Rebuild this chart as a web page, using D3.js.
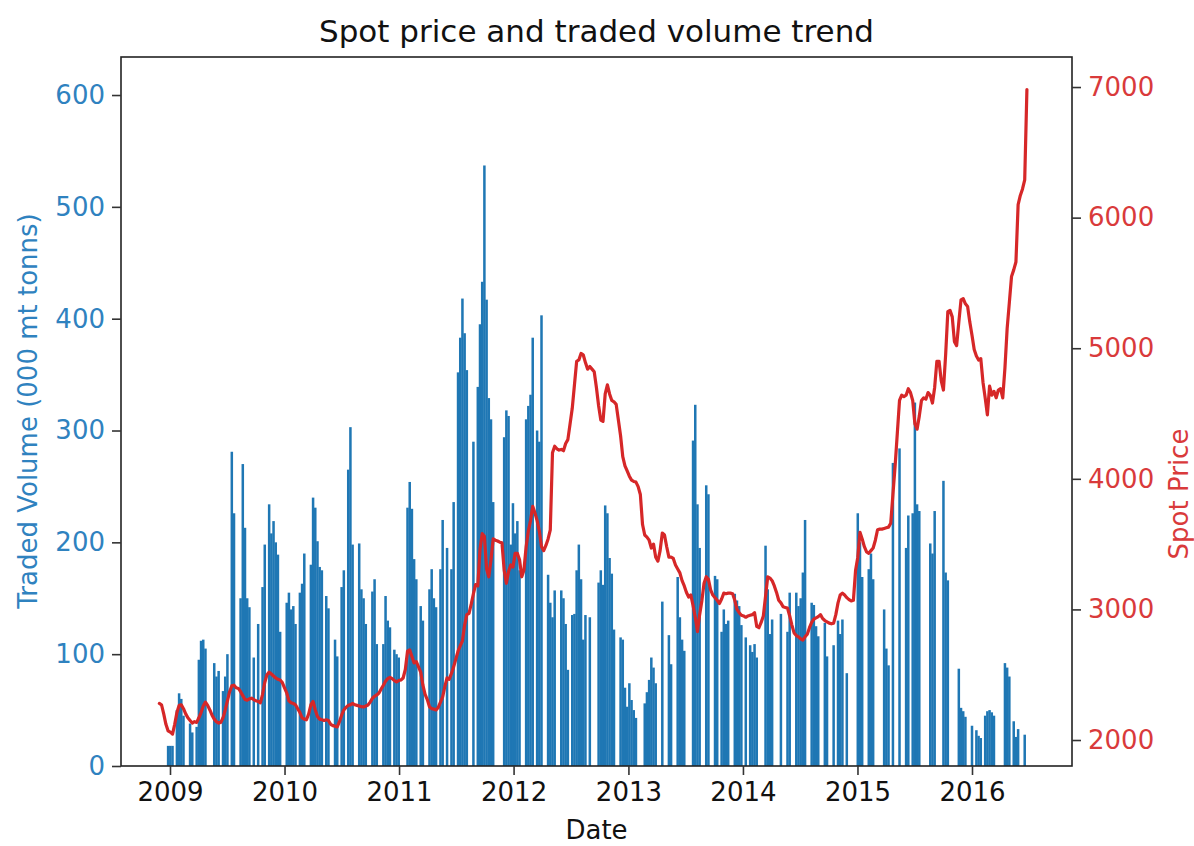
<!DOCTYPE html>
<html><head><meta charset="utf-8">
<script src="https://cdn.jsdelivr.net/npm/d3@7"></script>
<style>body{margin:0;background:#fff}svg{display:block}text{font-family:"DejaVu Sans",sans-serif}</style>
</head><body>
<svg id="chart" width="1194" height="846"></svg>
<script>
// Weekly (Friday) series, one array per calendar year
const volume2008 = [0,0,0,0,18];
const volume2009 = [18,18,0,50,65,60,45,0,0,38, 30,0,35,95,112,113,105,0,0,0, 92,80,85,0,67,80,100,0,281,226, 0,0,150,270,213,150,142,0,97,0, 127,0,160,198,0,234,208,219,200,189, 120,0];
const volume2010 = [0,146,155,140,143,127,0,155,163,190, 0,0,180,240,231,201,178,175,0,152, 141,0,0,113,98,0,160,175,0,265, 303,198,0,0,199,158,150,127,0,0, 156,167,109,0,0,109,152,130,124,0, 104,100,97];
const volume2011 = [0,0,0,231,254,230,185,167,0,143, 130,0,0,158,176,150,142,0,176,220, 0,195,0,176,236,0,352,383,418,387, 354,0,0,290,0,339,395,433,537,417, 329,310,236,0,0,0,0,294,318,313, 198,235];
const volume2012 = [208,219,175,0,0,310,322,332,383,0, 300,290,403,0,0,171,146,133,157,0, 0,157,150,127,86,0,135,136,175,198, 167,113,135,0,133,0,0,0,164,175, 162,233,226,186,172,122,0,0,115,113, 70,53];
const volume2013 = [74,59,50,43,0,0,0,56,66,77, 97,88,74,0,0,147,0,0,117,91, 0,0,169,133,113,103,0,0,0,291, 323,234,195,0,0,251,243,0,0,170, 167,0,120,140,127,130,0,0,154,148, 143,126];
const volume2014 = [0,115,0,108,102,109,97,0,0,0, 197,158,118,131,0,0,0,136,0,0, 120,155,0,0,155,143,150,173,220,0, 0,146,144,125,116,0,0,128,98,0, 0,108,0,130,118,131,0,83,0,0, 0,0];
const volume2015 = [226,200,169,0,0,176,190,167,0,0, 0,0,140,105,90,0,271,0,0,284, 0,0,195,224,0,226,325,234,228,0, 0,0,0,199,190,228,0,0,0,255, 173,166,0,0,0,0,87,52,49,44, 0,0];
const volume2016 = [36,0,32,27,25,0,45,49,50,48, 45,0,0,0,0,92,88,80,0,40, 26,33,0,0,28,0];

const price2008 = [2280,2270,2200,2120,2070];
const price2009 = [2060,2045,2120,2210,2265,2270,2240,2200,2170,2150, 2130,2140,2135,2170,2210,2260,2290,2265,2230,2190, 2160,2140,2130,2135,2170,2230,2300,2370,2415,2420, 2400,2395,2370,2340,2310,2305,2315,2320,2310,2300, 2295,2285,2350,2440,2500,2520,2505,2490,2475,2465, 2460,2440];
const price2010 = [2400,2360,2300,2285,2280,2270,2240,2210,2170,2160, 2155,2200,2270,2295,2230,2180,2160,2155,2150,2155, 2150,2120,2110,2105,2100,2140,2190,2230,2250,2265, 2270,2280,2270,2265,2260,2255,2253,2260,2268,2290, 2320,2335,2345,2360,2390,2420,2450,2470,2480,2470, 2455,2445,2455];
const price2011 = [2460,2475,2540,2680,2690,2640,2590,2600,2560,2520, 2420,2350,2310,2255,2240,2237,2230,2250,2290,2330, 2410,2475,2465,2510,2560,2620,2680,2720,2760,2880, 2960,2970,3040,3120,3190,3180,3460,3580,3560,3310, 3250,3380,3540,3530,3524,3515,3510,3300,3200,3290, 3340,3325];
const price2012 = [3430,3430,3380,3250,3300,3480,3600,3680,3790,3740, 3680,3600,3480,3450,3490,3540,3610,4200,4250,4230, 4220,4225,4215,4270,4300,4420,4540,4720,4900,4910, 4960,4950,4890,4840,4860,4840,4820,4700,4560,4450, 4440,4650,4720,4650,4600,4590,4570,4450,4330,4170, 4100,4060];
const price2013 = [4020,3990,3980,3975,3940,3880,3650,3570,3554,3530, 3470,3500,3400,3370,3450,3585,3570,3480,3400,3400, 3390,3340,3310,3280,3220,3180,3130,3095,3110,3030, 2940,2830,2960,3065,3200,3250,3230,3150,3110,3090, 3070,3045,3080,3125,3120,3125,3125,3120,3070,3000, 2975,2955];
const price2014 = [2950,2940,2950,2955,2960,2975,2870,2860,2900,2950, 3100,3250,3240,3220,3180,3130,3070,3050,3020,3015, 3010,2950,2880,2820,2800,2790,2775,2765,2790,2810, 2860,2900,2925,2935,2945,2960,2930,2915,2905,2895, 2890,2895,2960,3050,3110,3125,3110,3090,3075,3065, 3070,3300];
const price2015 = [3400,3590,3540,3480,3440,3430,3450,3470,3530,3610, 3615,3615,3620,3625,3630,3660,3880,4100,4350,4600, 4640,4630,4640,4690,4660,4600,4420,4380,4480,4600, 4620,4610,4660,4640,4580,4700,4900,4900,4750,4680, 4950,5280,5290,5240,5050,5020,5200,5370,5380,5340, 5320,5200];
const price2016 = [5100,4990,4940,4910,4920,4740,4620,4490,4710,4640, 4670,4620,4680,4690,4620,4850,5150,5350,5550,5600, 5660,6100,6170,6220,6290,6980];

const periodStarts = ["2008-11-28","2009-01-01","2010-01-01","2011-01-01","2012-01-01","2013-01-01","2014-01-01","2015-01-01","2016-01-01"];
const periodEnds   = ["2009-01-01","2010-01-01","2011-01-01","2012-01-01","2013-01-01","2014-01-01","2015-01-01","2016-01-01","2016-06-25"];
const volumeByPeriod = [volume2008,volume2009,volume2010,volume2011,volume2012,volume2013,volume2014,volume2015,volume2016];
const priceByPeriod  = [price2008,price2009,price2010,price2011,price2012,price2013,price2014,price2015,price2016];

const yearTicks = [2009,2010,2011,2012,2013,2014,2015,2016];
const volumeTicks = [0,100,200,300,400,500,600];
const priceTicks = [2000,3000,4000,5000,6000,7000];

const titleText = "Spot price and traded volume trend";
const xLabel = "Date";
const yLeftLabel = "Traded Volume (000 mt tonns)";
const yRightLabel = "Spot Price";

// build records
const rows = [];
periodStarts.forEach((s,i)=>{
  const dates = d3.utcFriday.range(new Date(s+"T00:00:00Z"), new Date(periodEnds[i]+"T00:00:00Z"));
  dates.forEach((d,k)=>{
    if (k < volumeByPeriod[i].length) rows.push({date:d, volume:volumeByPeriod[i][k], price:priceByPeriod[i][k]});
  });
});

const L=121, R=1072, T=57, B=766;
const svg = d3.select("#chart");
const blue="#1f77b4", red="#d62728";
const labelBlue="#2f82bf", labelRed="#d93a3b";

const x = d3.scaleUtc().domain([new Date(Date.UTC(2009,0,1)), new Date(Date.UTC(2016,0,1))]).range([170,972]);
x.domain([x.invert(L), x.invert(R)]).range([L,R]);
const yVol = d3.scaleLinear().domain([0,634]).range([B,T]);
const yPrice = d3.scaleLinear().domain([1801,7230]).range([B,T]);

svg.append("defs").append("clipPath").attr("id","clip").append("rect")
  .attr("x",L).attr("y",T).attr("width",R-L).attr("height",B-T);

const barDays = 8*24*3600*1000;
svg.append("g").attr("clip-path","url(#clip)").selectAll("rect").data(rows.filter(d=>d.volume>0)).join("rect")
  .attr("x",d=>x(new Date(+d.date - barDays/2)))
  .attr("width",d=>x(new Date(+d.date + barDays/2)) - x(new Date(+d.date - barDays/2)))
  .attr("y",d=>yVol(d.volume))
  .attr("height",d=>yVol(0)-yVol(d.volume))
  .attr("fill",blue);

svg.append("path").datum(rows).attr("clip-path","url(#clip)")
  .attr("d", d3.line().x(d=>x(d.date)).y(d=>yPrice(d.price)))
  .attr("fill","none").attr("stroke",red).attr("stroke-width",3.2).attr("stroke-linejoin","round").attr("stroke-linecap","round");

// frame
svg.append("rect").attr("x",L).attr("y",T).attr("width",R-L).attr("height",B-T)
  .attr("fill","none").attr("stroke","#222").attr("stroke-width",1.6);

function styleAxis(g, color){
  g.select(".domain").remove();
  g.selectAll(".tick line").attr("stroke","#333").attr("stroke-width",1.6);
  g.selectAll(".tick text").attr("fill",color).style("font-size","26px").style("font-family","DejaVu Sans, sans-serif");
}
const gx = svg.append("g").attr("transform",`translate(0,${B})`)
  .call(d3.axisBottom(x).tickValues(yearTicks.map(yr=>new Date(Date.UTC(yr,0,1)))).tickFormat(d3.utcFormat("%Y")).tickSize(9).tickPadding(8));
styleAxis(gx,"#111");
const gl = svg.append("g").attr("transform",`translate(${L},0)`)
  .call(d3.axisLeft(yVol).tickValues(volumeTicks).tickFormat(d3.format("d")).tickSize(9).tickPadding(7));
styleAxis(gl,labelBlue);
const gr = svg.append("g").attr("transform",`translate(${R},0)`)
  .call(d3.axisRight(yPrice).tickValues(priceTicks).tickFormat(d3.format("d")).tickSize(9).tickPadding(7));
styleAxis(gr,labelRed);

svg.append("text").attr("x",(L+R)/2).attr("y",42).attr("text-anchor","middle")
  .style("font-size","31px").attr("fill","#111").text(titleText);
svg.append("text").attr("x",(L+R)/2).attr("y",839).attr("text-anchor","middle")
  .style("font-size","26px").attr("fill","#111").text(xLabel);
svg.append("text").attr("transform","translate(37,411) rotate(-90)").attr("text-anchor","middle")
  .style("font-size","26px").attr("fill",labelBlue).text(yLeftLabel);
svg.append("text").attr("transform","translate(1188,494) rotate(-90)").attr("text-anchor","middle")
  .style("font-size","26px").attr("fill",labelRed).text(yRightLabel);
</script>
</body></html>
